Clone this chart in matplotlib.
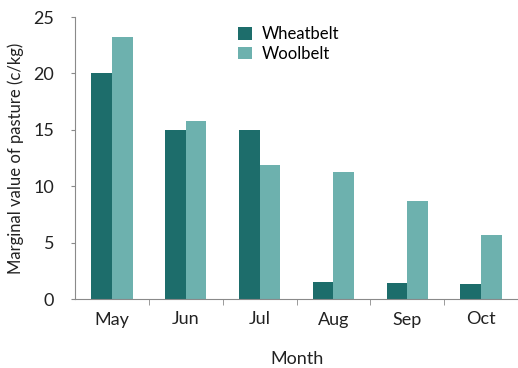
import numpy as np
import matplotlib
matplotlib.use('Agg')
import matplotlib.pyplot as plt

months = ["May", "Jun", "Jul", "Aug", "Sep", "Oct"]
wheatbelt = [20.0, 15.0, 15.0, 1.5, 1.4, 1.3]
woolbelt = [23.2, 15.8, 11.9, 11.3, 8.7, 5.7]

dark = '#1d6d6b'
light = '#6db1ae'
axis_grey = '#8a8a8a'

plt.rcParams['font.family'] = ['Lato', 'DejaVu Sans']

fig = plt.figure(figsize=(5.18, 3.68), dpi=100)
ax = fig.add_axes([75 / 518, 1 - 299 / 368, 1 - 75 / 518, (299 - 17) / 368])

x = np.arange(len(months))
w = 0.28
ax.bar(x - w / 2, wheatbelt, w, color=dark, label='Wheatbelt')
ax.bar(x + w / 2, woolbelt, w, color=light, label='Woolbelt')

ax.set_xlim(-0.5, 5.5)
ax.set_ylim(0, 25)
ax.set_yticks([0, 5, 10, 15, 20, 25])
ax.set_xticks(x)
ax.set_xticklabels(months)
# small marks between the month groups
ax.set_xticks(np.arange(0.5, 5.0, 1.0), minor=True)
ax.tick_params(axis='x', which='major', length=0, labelsize=13, pad=9, colors='#222222')
ax.tick_params(axis='x', which='minor', length=4, direction='out', color=axis_grey)
ax.tick_params(axis='y', length=3, direction='out', labelsize=13, pad=12, colors='#222222')
ax.tick_params(axis='y', color=axis_grey)

for s in ['top', 'right']:
    ax.spines[s].set_visible(False)
for s in ['left', 'bottom']:
    ax.spines[s].set_color(axis_grey)
    ax.spines[s].set_linewidth(0.8)

ax.set_xlabel('Month', fontsize=13, labelpad=17, color='#222222')
ax.set_ylabel('Marginal value of pasture (c/kg)', fontsize=12, labelpad=7, color='#222222')

ax.legend(loc='upper left', bbox_to_anchor=(0.335, 1.02), frameon=False, fontsize=12,
          handlelength=0.8, handleheight=0.8, handletextpad=0.6, labelspacing=0.2)

fig.savefig('out.png', dpi=100)
